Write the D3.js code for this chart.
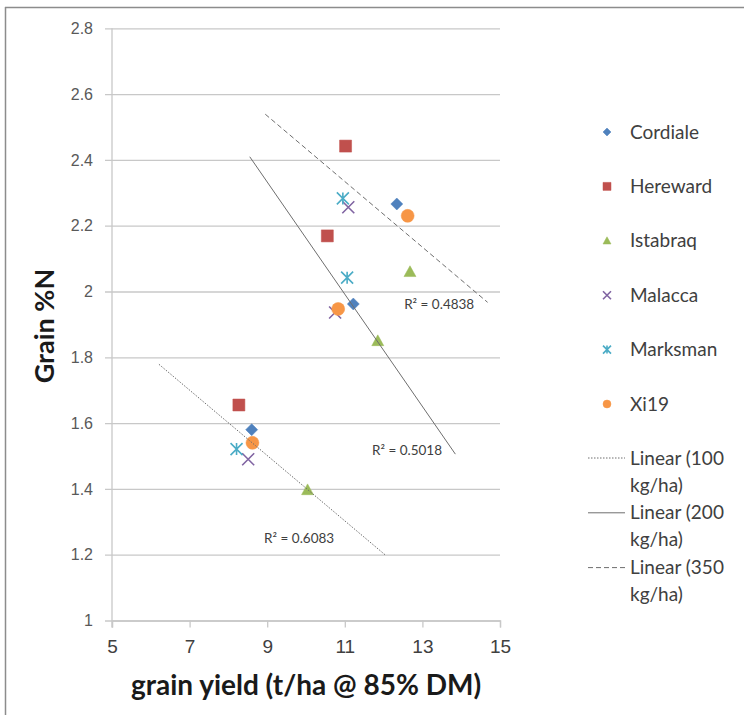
<!DOCTYPE html>
<html>
<head>
<meta charset="utf-8">
<script src="https://cdn.jsdelivr.net/npm/d3@7"></script>
<style>
  body { margin: 0; background: #fff; }
  svg { display: block; font-family: Lato, "Open Sans", sans-serif; }
</style>
</head>
<body>
<div id="chart"></div>
<script>
// grain N vs yield, one point per variety at each N rate
const varieties = ["Cordiale", "Hereward", "Istabraq", "Malacca", "Marksman", "Xi19"];
const rateLabels = ["Linear (100 kg/ha)", "Linear (200 kg/ha)", "Linear (350 kg/ha)"];

const yield100 = [8.60, 8.27, 10.04, 8.51, 8.21, 8.62];
const grainN100 = [1.580, 1.655, 1.397, 1.490, 1.521, 1.540];
const yield200 = [11.22, 10.55, 11.85, 10.75, 11.06, 10.83];
const grainN200 = [1.962, 2.169, 1.850, 1.936, 2.042, 1.947];
const yield350 = [12.34, 11.02, 12.68, 11.09, 10.95, 12.62];
const grainN350 = [2.266, 2.442, 2.060, 2.256, 2.283, 2.230];

const rSquared = ["0.6083", "0.5018", "0.4838"];
const xTicks = [5, 7, 9, 11, 13, 15];
const yTicks = [1, 1.2, 1.4, 1.6, 1.8, 2, 2.2, 2.4, 2.6, 2.8];

const width = 744, height = 715;
const colors = ["#4F81BD", "#C0504D", "#9BBB59", "#8064A2", "#4BACC6", "#F79646"];
const markerTypes = ["diamond", "square", "triangle", "cross", "star", "circle"];
const dashes = ["1.5,1.5", null, "5,3"];
// where excel left the R² labels (data units)
const labelPos = [[8.92, 1.236], [11.7, 1.503], [12.53, 1.947]];

const x = d3.scaleLinear().domain([5, 15]).range([112, 500]);
const y = d3.scaleLinear().domain([1, 2.8]).range([620.5, 28.3]);

const svg = d3.select("#chart").append("svg")
  .attr("width", width)
  .attr("height", height);

// outer frame (only top and left edges show)
svg.append("line").attr("x1", 5).attr("x2", width).attr("y1", 7.5).attr("y2", 7.5)
  .attr("stroke", "#8c8c8c").attr("stroke-width", 1.5);
svg.append("line").attr("x1", 5.5).attr("x2", 5.5).attr("y1", 7).attr("y2", height)
  .attr("stroke", "#8c8c8c").attr("stroke-width", 1.5);

// gridlines + y axis
const yAxis = d3.axisLeft(y).tickValues(yTicks).tickSize(-(500 - 105)).tickPadding(13)
  .tickFormat(d3.format("~g"));
const gy = svg.append("g").attr("transform", "translate(105,0)").call(yAxis);
gy.select(".domain").remove();
gy.selectAll(".tick line").attr("stroke", "#c8c8c8").attr("stroke-width", 1.3);
gy.selectAll(".tick text").attr("fill", "#595959").attr("font-size", 16).attr("x", -12);

// vertical axis line
svg.append("line").attr("x1", 112).attr("x2", 112).attr("y1", y(2.8)).attr("y2", y(1) + 7)
  .attr("stroke", "#c8c8c8").attr("stroke-width", 1.3);

const xAxis = d3.axisBottom(x).tickValues(xTicks).tickSize(7).tickPadding(12)
  .tickFormat(d3.format("d"));
const gx = svg.append("g").attr("transform", `translate(0,${y(1)})`).call(xAxis);
gx.select(".domain").attr("stroke", "#c8c8c8").attr("stroke-width", 1.3);
gx.selectAll(".tick line").attr("stroke", "#c8c8c8").attr("stroke-width", 1.3);
gx.selectAll(".tick text").attr("fill", "#404040").attr("font-size", 19);

// axis titles
svg.append("text")
  .attr("x", 306).attr("y", 695)
  .attr("text-anchor", "middle")
  .attr("font-size", 28).attr("font-weight", "bold").attr("fill", "#1a1a1a")
  .text("grain yield (t/ha @ 85% DM)");
svg.append("text")
  .attr("transform", "translate(54,326) rotate(-90)")
  .attr("text-anchor", "middle")
  .attr("font-size", 27).attr("font-weight", "bold").attr("fill", "#1a1a1a")
  .text("Grain %N");

function markerPath(type, s) {
  const h = s / 2;
  if (type === "diamond") return `M0,${-h}L${h},0L0,${h}L${-h},0Z`;
  if (type === "square") return `M${-h},${-h}H${h}V${h}H${-h}Z`;
  if (type === "triangle") return `M0,${-h}L${h},${h * 0.8}L${-h},${h * 0.8}Z`;
  if (type === "cross") return `M${-h},${-h}L${h},${h}M${h},${-h}L${-h},${h}`;
  if (type === "star") return `M${-h},${-h}L${h},${h}M${h},${-h}L${-h},${h}M0,${-h}V${h}`;
  return d3.symbol(d3.symbolCircle, s * s * 0.78)();
}

function drawMarker(g, type, color, s) {
  const open = type === "cross" || type === "star";
  g.append("path")
    .attr("d", markerPath(type, s))
    .attr("fill", open ? "none" : color)
    .attr("stroke", color)
    .attr("stroke-width", open ? 1.6 : 0.5);
}

const rates = [
  {yields: yield100, ns: grainN100},
  {yields: yield200, ns: grainN200},
  {yields: yield350, ns: grainN350}
];

// points
const plot = svg.append("g");
rates.forEach(r => {
  varieties.forEach((v, i) => {
    const g = plot.append("g")
      .attr("transform", `translate(${x(r.yields[i])},${y(r.ns[i])})`);
    drawMarker(g, markerTypes[i], colors[i], markerTypes[i] === "circle" ? 13 : 12);
  });
});

// least-squares trendlines, forecast 2 t/ha either side
rates.forEach((r, k) => {
  const mx = d3.mean(r.yields), my = d3.mean(r.ns);
  const sxy = d3.sum(r.yields, (xi, i) => (xi - mx) * (r.ns[i] - my));
  const sxx = d3.sum(r.yields, xi => (xi - mx) * (xi - mx));
  const b = sxy / sxx, a = my - b * mx;
  const x0 = d3.min(r.yields) - 2, x1 = d3.max(r.yields) + 2;
  svg.append("line")
    .attr("x1", x(x0)).attr("y1", y(a + b * x0))
    .attr("x2", x(x1)).attr("y2", y(a + b * x1))
    .attr("stroke", "#6e6e6e").attr("stroke-width", 1)
    .attr("stroke-dasharray", dashes[k]);
  svg.append("text")
    .attr("x", x(labelPos[k][0])).attr("y", y(labelPos[k][1]))
    .attr("font-size", 13.5).attr("fill", "#404040")
    .text("R\u00B2 = " + rSquared[k]);
});

// legend
const legend = svg.append("g").attr("font-size", 19).attr("fill", "#404040");
varieties.forEach((v, i) => {
  const ly = 132 + i * 54.4;
  const g = legend.append("g").attr("transform", `translate(607,${ly})`);
  drawMarker(g, markerTypes[i], colors[i], 8);
  legend.append("text").attr("x", 630).attr("y", ly).attr("dy", "0.35em").text(v);
});
rateLabels.forEach((lab, k) => {
  const ly = 458 + k * 54.8;
  legend.append("line").attr("x1", 588).attr("x2", 625).attr("y1", ly).attr("y2", ly)
    .attr("stroke", "#6e6e6e").attr("stroke-width", 1)
    .attr("stroke-dasharray", dashes[k]);
  const t = legend.append("text").attr("x", 630).attr("y", ly).attr("dy", "0.35em");
  t.append("tspan").text(lab.replace(" kg/ha)", ""));
  t.append("tspan").attr("x", 630).attr("dy", 27).text("kg/ha)");
});
</script>
</body>
</html>
